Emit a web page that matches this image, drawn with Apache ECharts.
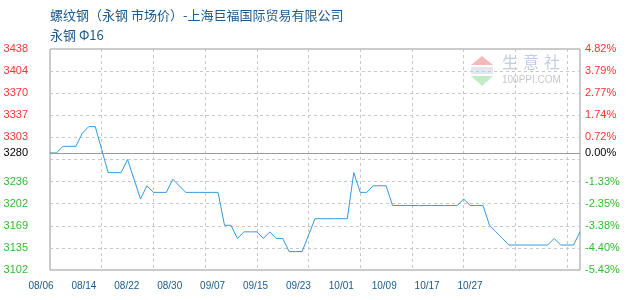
<!DOCTYPE html>
<html><head><meta charset="utf-8">
<script src="https://cdn.jsdelivr.net/npm/echarts@6/dist/echarts.min.js"></script>
<style>html,body{margin:0;padding:0;background:#fff}#c{width:630px;height:300px}</style>
</head><body><div id="c"></div>
<script>
const titleText = '螺纹钢（永钢 市场价）-上海巨福国际贸易有限公司';
const subTitle = '永钢 Φ16';

const dates = [
 '08/06','08/07','08/08','08/09','08/10','08/11','08/12','08/13','08/14','08/15','08/16','08/17','08/18','08/19','08/20','08/21','08/22','08/23','08/24','08/25','08/26','08/27','08/28','08/29','08/30','08/31',
 '09/01','09/02','09/03','09/04','09/05','09/06','09/07','09/08','09/09','09/10','09/11','09/12','09/13','09/14','09/15','09/16','09/17','09/18','09/19','09/20','09/21','09/22','09/23','09/24','09/25','09/26','09/27','09/28','09/29','09/30',
 '10/01','10/02','10/03','10/04','10/05','10/06','10/07','10/08','10/09','10/10','10/11','10/12','10/13','10/14','10/15','10/16','10/17','10/18','10/19','10/20','10/21','10/22','10/23','10/24','10/25','10/26','10/27'
];

const prices = [
 3280,3280,3290,3290,3290,3310,3320,3320,3285,3250,
 3250,3250,3270,3240,3210,3230,3220,3220,3220,3240,
 3230,3220,3220,3220,3220,3220,3220,3170,3170,3150,
 3160,3160,3160,3150,3160,3150,3150,3130,3130,3130,
 3155,3180,3180,3180,3180,3180,3180,3250,3220,3220,
 3230,3230,3230,3200,3200,3200,3200,3200,3200,3200,
 3200,3200,3200,3200,3210,3200,3200,3200,3170,3160,
 3150,3140,3140,3140,3140,3140,3140,3140,3150,3140,
 3140,3140,3160
];

const xLabels = ['08/06','08/14','08/22','08/30','09/07','09/15','09/23','10/01','10/09','10/17','10/27'];
const xGridStep = 8;

const basePrice = 3280;
const yMin = 3102, yMax = 3438;
const yGridValues = [3102, 3135.6, 3169.2, 3202.8, 3236.4, 3270, 3303.6, 3337.2, 3370.8, 3404.4, 3438];
const yLabelValues = [3102, 3135.6, 3169.2, 3202.8, 3236.4, 3280, 3303.6, 3337.2, 3370.8, 3404.4, 3438];

const RED = '#ff3333', GREEN = '#33bb33', BLACK = '#000000';
const BLUE_TEXT = '#1a5a8c';
const labelColor = v => (Math.abs(v - basePrice) < 1e-6 ? BLACK : (v > basePrice ? RED : GREEN));
const gridLine = {color: '#c8c8c8', type: [3, 3], width: 1};

const chart = echarts.init(document.getElementById('c'), null, {renderer: 'canvas'});
chart.setOption({
  animation: false,
  backgroundColor: '#ffffff',
  title: [
    {text: titleText, left: 50, top: 8, padding: 0,
     textStyle: {fontSize: 13, fontWeight: 'normal', color: BLUE_TEXT, fontFamily: 'Noto Sans CJK SC', lineHeight: 14}},
    {text: subTitle, left: 50, top: 28, padding: 0,
     textStyle: {fontSize: 13, fontWeight: 'normal', color: BLUE_TEXT, fontFamily: 'Noto Sans CJK SC', lineHeight: 14}}
  ],
  grid: [
    {left: 50, right: 50, top: 49, bottom: 30, show: true, borderColor: '#999999', borderWidth: 1, backgroundColor: 'transparent'},
    {left: 41, right: 160, top: 49, bottom: 30, show: false}
  ],
  xAxis: [
    {type: 'category', gridIndex: 0, data: dates, boundaryGap: false,
     axisLine: {show: false}, axisTick: {show: false}, axisLabel: {show: false},
     splitLine: {show: true, interval: xGridStep - 1, lineStyle: gridLine}},
    {type: 'category', gridIndex: 1, data: xLabels, boundaryGap: false,
     axisLine: {show: false}, axisTick: {show: false}, splitLine: {show: false},
     axisLabel: {interval: 0, color: BLUE_TEXT, fontSize: 10, margin: 11, fontFamily: 'Liberation Sans'}}
  ],
  yAxis: [
    {type: 'value', gridIndex: 0, min: yMin, max: yMax, position: 'left',
     axisLine: {show: false}, axisTick: {show: false, customValues: yGridValues},
     axisLabel: {customValues: yLabelValues, margin: 22, fontSize: 11, fontFamily: 'Liberation Sans',
       formatter: v => String(Math.floor(v + 1e-9)), color: v => labelColor(v)},
     splitLine: {show: true, lineStyle: gridLine}},
    {type: 'value', gridIndex: 0, min: yMin, max: yMax, position: 'right',
     axisLine: {show: false}, axisTick: {show: false, customValues: yGridValues},
     axisLabel: {customValues: yLabelValues, margin: 5, fontSize: 11, fontFamily: 'Liberation Sans',
       formatter: v => ((v - basePrice) / basePrice * 100).toFixed(2) + '%', color: v => labelColor(v)},
     splitLine: {show: false}},
    {type: 'value', gridIndex: 1, show: false}
  ],
  series: [{
    type: 'line', xAxisIndex: 0, yAxisIndex: 0, data: prices, symbol: 'none',
    lineStyle: {color: '#3399dd', width: 1},
    markLine: {silent: true, symbol: 'none', label: {show: false},
      data: [{yAxis: basePrice, lineStyle: {color: '#999999', type: 'solid', width: 1}}]}
  }],
  graphic: [
    {type: 'polygon', silent: true, shape: {points: [[471, 65], [493, 65], [482, 56]]}, style: {fill: '#f5b9b9'}},
    {type: 'rect', silent: true, shape: {x: 471, y: 67, width: 22, height: 7}, style: {fill: '#e4e7ee'}},
    {type: 'polygon', silent: true, shape: {points: [[471, 76], [493, 76], [482, 86]]}, style: {fill: '#c4ebc8'}},
    {type: 'text', silent: true, left: 502, top: 54, style: {text: '生', fontSize: 16, fill: '#c4cce0', fontFamily: 'Noto Sans CJK SC'}},
    {type: 'text', silent: true, left: 523, top: 54, style: {text: '意', fontSize: 16, fill: '#c4cce0', fontFamily: 'Noto Sans CJK SC'}},
    {type: 'text', silent: true, left: 544, top: 54, style: {text: '社', fontSize: 16, fill: '#c4cce0', fontFamily: 'Noto Sans CJK SC'}},
    {type: 'text', silent: true, left: 502, top: 75, style: {text: '100PPI.COM', fontSize: 10, fill: '#c8c8c8', fontFamily: 'Liberation Sans'}}
  ]
});
</script>
</body></html>
